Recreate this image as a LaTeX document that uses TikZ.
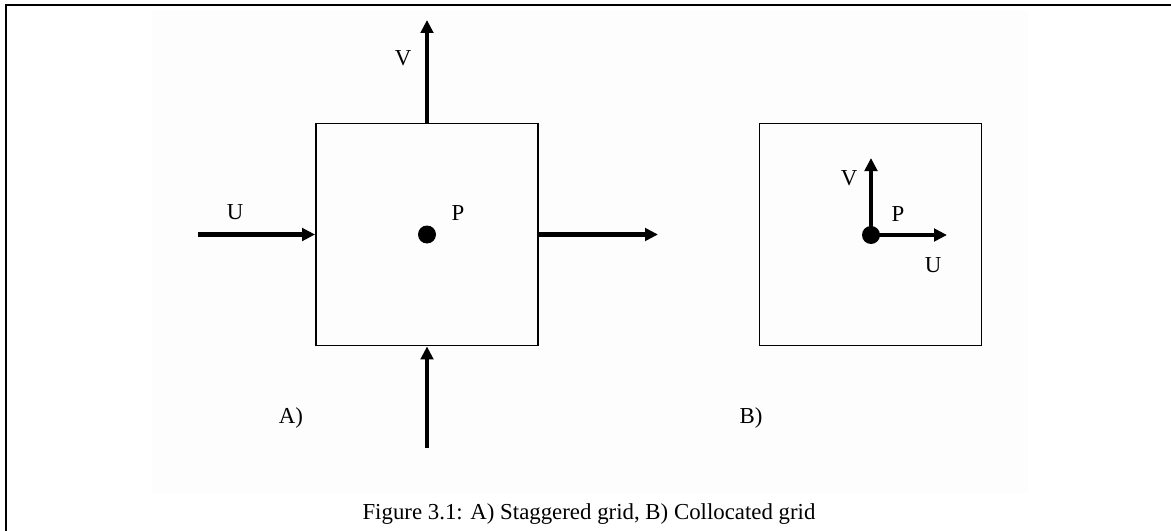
\documentclass[tikz,border=0pt]{standalone}
\usepackage{fontspec}
\setmainfont{Liberation Serif}
\usetikzlibrary{arrows.meta}
\tikzset{
    cell/.style={draw, line width=1.1pt, minimum width=4.44cm, minimum height=4.44cm, inner sep=0pt},
    dot/.style={circle, fill, minimum size=0.36cm, inner sep=0pt},
    flux/.style={line width=2.3pt, -{Triangle[length=2.6mm, width=2.5mm]}},
    lbl/.style={font=\fontsize{13}{15}\selectfont, inner sep=0pt},
}
\begin{document}
\begin{tikzpicture}[x=0.02cm, y=-0.02cm]
                    \useasboundingbox (0,0) rectangle (1171,531);
                    % Background and frame
                    \fill[white!99.4!black] (152,10) rectangle (1028,493);
                    \draw[line width=1.6pt] (6,540) -- (6,5) -- (1180,5);
                    % A) staggered cell
                    \node[cell] (cellA) at (427,234.5) {};
                    \node[dot] (pA) at (427,234.5) {};
                    \node[lbl] (labPA) at (458,213) {P};
                    \coordinate (uInA) at (198,234.5);
                    \coordinate (uOutA) at (658,234.5);
                    \coordinate (vOutA) at (427,20);
                    \coordinate (vInA) at (427,448);
                    \draw[flux] (uInA) -- (cellA.west);
                    \draw[flux] (cellA.east) -- (uOutA);
                    \draw[flux] (cellA.north) -- (vOutA);
                    \draw[flux] (vInA) -- (cellA.south);
                    \node[lbl] (labUA) at (235,212) {U};
                    \node[lbl] (labVA) at (403,58) {V};
                    \node[lbl] (labA) at (291,418) {A)};
                    % B) collocated cell
                    \node[cell] (cellB) at (870.5,234.5) {};
                    \node[dot] (pB) at (871,235) {};
                    \coordinate (vB) at (871,158);
                    \coordinate (uB) at (947,235);
                    \draw[flux] (pB.center) -- (vB);
                    \draw[flux] (pB.center) -- (uB);
                    \node[lbl] (labVB) at (849,178) {V};
                    \node[lbl] (labPB) at (898,214) {P};
                    \node[lbl] (labUB) at (933,265) {U};
                    \node[lbl] (labB) at (751,418) {B)};
                    % Caption
                    \node[lbl] (caption) at (589,514) {Figure 3.1: A) Staggered grid, B) Collocated grid};
                \end{tikzpicture}
\end{document}
